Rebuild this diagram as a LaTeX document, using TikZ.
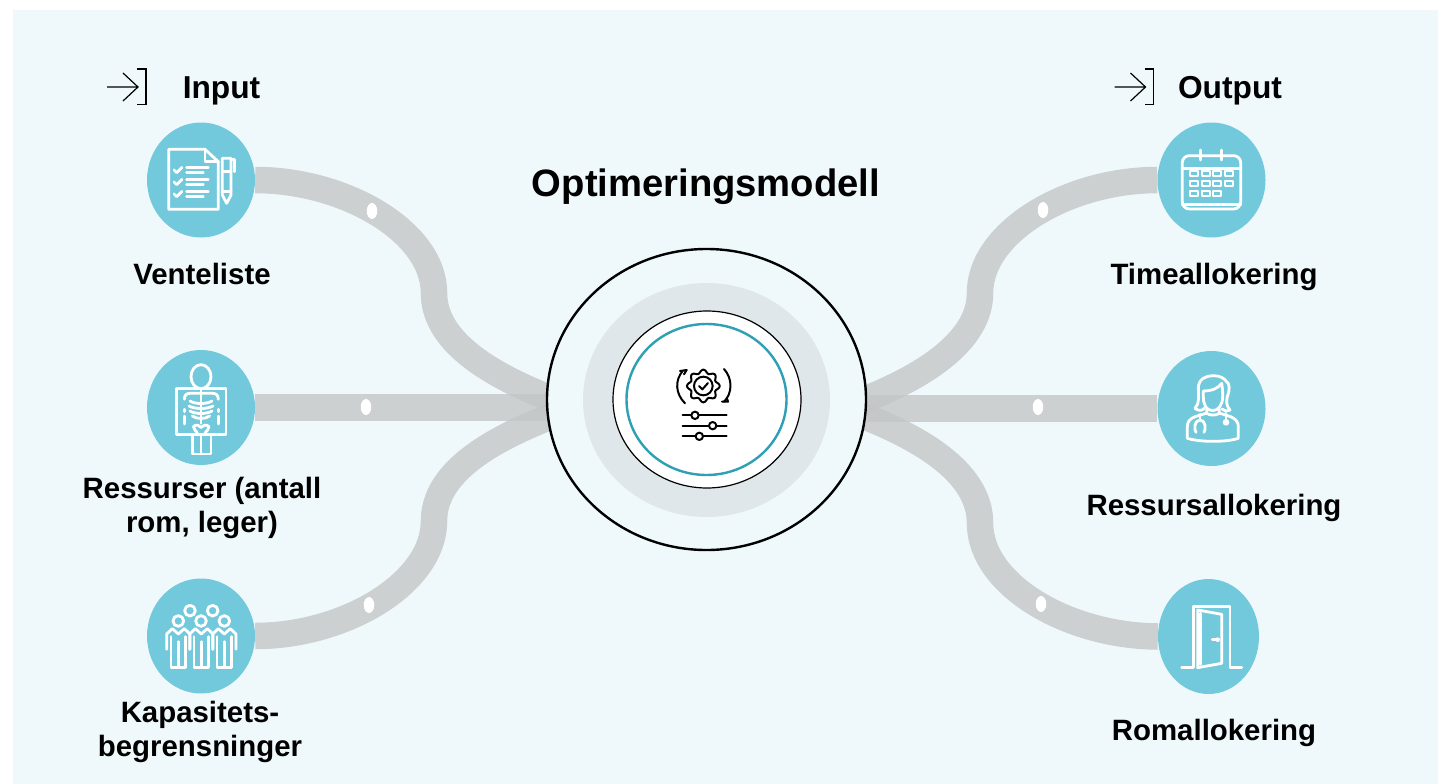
\documentclass[tikz,border=0pt]{standalone}
\usepackage{fontspec}
\setmainfont{Liberation Sans}
\usetikzlibrary{shapes.geometric,backgrounds}
\definecolor{panel}{HTML}{EFF9FC}
\definecolor{band}{HTML}{C4C6C6}
\definecolor{disc}{HTML}{73C9DC}
\definecolor{ringgray}{HTML}{DFE7EA}
\definecolor{ringteal}{HTML}{2E9FB5}
\tikzset{
  disc/.style={ellipse,fill=disc,inner sep=0pt,minimum width=108pt,minimum height=115pt},
  tube/.style={draw=band,draw opacity=.8,line width=26.5pt},
  hole/.style={ellipse,fill=white,inner sep=0pt,minimum width=10.5pt,minimum height=16pt},
  head/.style={font=\bfseries\fontsize{31.7}{36}\selectfont,anchor=base,inner sep=0pt},
  label/.style={font=\bfseries\fontsize{29.4}{34}\selectfont,align=center,inner sep=0pt},
  wicon/.style={draw=white,line width=2.8pt,line join=round,line cap=round},
  kicon/.style={draw=black,line width=2pt,line join=round,line cap=round},
  enter/.style={draw=black,line width=1.2pt},
}
\begin{document}
\begin{tikzpicture}[x=1pt,y=-1pt]
\useasboundingbox (0,0) rectangle (1448,784);
% hub
\node[ellipse,draw=black,line width=2.4pt,fill=panel,inner sep=0pt,minimum width=319pt,minimum height=301pt] (hub) at (706.5,399.5) {};
\node[ellipse,fill=ringgray,inner sep=0pt,minimum width=247pt,minimum height=234pt] (ringg) at (706.5,400) {};
\node[ellipse,draw=black,line width=1.2pt,fill=white,inner sep=0pt,minimum width=188pt,minimum height=177pt] (ringb) at (707,399.5) {};
\node[ellipse,draw=ringteal,line width=2.4pt,fill=white,inner sep=0pt,minimum width=160pt,minimum height=151pt] (ringt) at (706.5,399.5) {};
% discs
\node[disc] (a) at (201,180) {};
\node[disc] (b) at (201,407.5) {};
\node[disc] (c) at (201,636) {};
\node[disc] (x) at (1211.5,180) {};
\node[disc] (y) at (1211.5,408.5) {};
\node[disc,minimum width=101pt] (z) at (1208.5,636.5) {};
% waypoints
\coordinate (ain) at (547,397);
\coordinate (cin) at (547,418);
\coordinate (xin) at (866,399);
\coordinate (zin) at (866,417);
\coordinate (abend) at (434,293);
\coordinate (cbend) at (434,521);
\coordinate (xbend) at (980,293);
\coordinate (zbend) at (980,523);
\begin{scope}[on background layer]
\fill[panel] (13,10) rectangle (1438,784);
\draw[tube] (a.east) .. controls (345,180) and (434,232) .. (abend) .. controls (434,340) and (487,373) .. (ain) -- (hub.center);
\draw[tube] (b.east) -- (b.east -| hub.west);
\draw[tube] (c.east) .. controls (345,636) and (434,583) .. (cbend) .. controls (434,474) and (487,442) .. (cin) -- (hub.center);
\draw[tube] (x.west) .. controls (1068,180) and (980,232) .. (xbend) .. controls (980,340) and (926,375) .. (xin) -- (hub.center);
\draw[tube] (y.west) -- (y.west -| hub.east);
\draw[tube] (z.west) .. controls (1068,636) and (980,585) .. (zbend) .. controls (980,475) and (926,441) .. (zin) -- (hub.center);
\end{scope}
% holes
\node[hole] (h1) at (372,211) {};
\node[hole] (h2) at (366,407) {};
\node[hole] (h3) at (369,605) {};
\node[hole] (h4) at (1043,210) {};
\node[hole] (h5) at (1038,407) {};
\node[hole] (h6) at (1041,604) {};
% texts
\node[head] (tin) at (221.5,98) {Input};
\node[head] (tout) at (1230,98) {Output};
\node[font=\bfseries\fontsize{38.2}{44}\selectfont,anchor=base,inner sep=0pt] (title) at (706,196) {Optimeringsmodell};
\node[label] (l1) at (202,274) {Venteliste};
\node[label] (l2) at (202,508) {Ressurser (antall\\rom, leger)};
\node[label] (l3) at (200,732) {Kapasitets-\\begrensninger};
\node[label] (l4) at (1214,277) {Timeallokering};
\node[label] (l5) at (1214,508) {Ressursallokering};
\node[label] (l6) at (1214,733) {Romallokering};
% enter icons
\foreach \dx in {0,1007.5}{
\begin{scope}[xshift=\dx pt]
\draw[enter] (107,87) -- (138,87) (123,73) -- (138,87) -- (123,101);
\draw[enter] (137,69) -- (146,69) -- (146,104.5) -- (137,104.5);
\end{scope}}
% checklist
\begin{scope}[shift={(90,60)},x=.3333pt,y=-.3333pt]
\draw[wicon] (345,268) -- (236,268) -- (236,448) -- (385,448) -- (385,305) -- cycle;
\draw[wicon] (345,268) -- (345,305) -- (385,305);
\foreach \d in {0,36,72}{
\draw[wicon] (252,{330+\d}) -- (260,{338+\d}) -- (276,{322+\d});
\draw[wicon] (290,{322+\d}) -- (355,{322+\d}) (290,{338+\d}) -- (340,{338+\d});}
\draw[wicon] (397,295) -- (423,295) -- (423,405) -- (410,430) -- (397,405) -- cycle;
\draw[wicon] (423,298) -- (433,298) -- (433,335) (397,335) -- (423,335) (397,395) -- (423,395);
\end{scope}
% x-ray
\begin{scope}[shift={(130,340)},x=.3333pt,y=-.3333pt]
\draw[wicon] (213,110) ellipse [x radius=30,y radius=36];
\draw[wicon] (140,145) rectangle (288,283);
\draw[wicon] (213,146) -- (213,250);
\draw[wicon] (187,283) -- (187,342) -- (243,342) -- (243,283) (213,283) -- (213,342);
\draw[wicon] (163,178) .. controls (163,165) and (170,160) .. (180,160) -- (247,160) .. controls (258,160) and (265,165) .. (265,178);
\foreach \y/\w in {183/33,198/36,213/33,228/26}{
\draw[wicon] ({213-\w},\y) .. controls ({213-\w/2},{\y+10}) and ({213+\w/2},{\y+10}) .. ({213+\w},\y);}
\draw[wicon] (163,208) -- (163,215) (163,228) -- (163,252) (265,208) -- (265,215) (265,228) -- (265,252);
\draw[wicon] (190,260) .. controls (200,250) and (208,258) .. (213,262) .. controls (218,258) and (228,250) .. (237,260) .. controls (238,270) and (228,270) .. (224,283) (190,260) .. controls (190,270) and (200,270) .. (203,283);
\end{scope}
% people
\begin{scope}[shift={(130,570)},x=.3333pt,y=-.3333pt]
\foreach \p/\q in {180/122,248/122,145/153,213/153,283/153}{\draw[wicon] (\p,\q) circle [radius=16];}
\foreach \c in {145,214,283}{
\draw[wicon] ({\c-35},238) -- ({\c-35},192) -- ({\c-18},176) -- (\c,192) -- ({\c+18},176) -- ({\c+35},192) -- ({\c+35},238);
\draw[wicon] ({\c-22},200) -- ({\c-22},293) -- ({\c+22},293) -- ({\c+22},200) (\c,215) -- (\c,293);}
\end{scope}
% calendar
\begin{scope}[shift={(1100,60)},x=.3333pt,y=-.3333pt]
\draw[wicon,rounded corners=7pt] (247,287) rectangle (422,447);
\draw[wicon] (247,325) -- (422,325) (247,433) -- (422,433);
\draw[wicon] (302,270) -- (302,300) (365,270) -- (365,300);
\foreach \cx/\cy in {282/340,317/340,351/340,386/340,282/370,317/370,351/370,386/370,282/400,317/400,351/400}{
\draw[wicon,line width=2pt] ({\cx-12},{\cy-7}) rectangle ({\cx+12},{\cy+7});}
\end{scope}
% doctor
\begin{scope}[shift={(1150,345)},x=.3333pt,y=-.3333pt]
\draw[wicon] (135,190) .. controls (150,175) and (145,150) .. (145,130) .. controls (145,100) and (170,92) .. (190,92) .. controls (210,92) and (222,100) .. (228,108) .. controls (240,115) and (240,135) .. (232,155) .. controls (228,170) and (230,185) .. (240,195) .. controls (230,200) and (222,198) .. (216,192);
\draw[wicon] (135,190) .. controls (145,198) and (155,198) .. (163,190);
\draw[wicon] (160,138) .. controls (185,138) and (205,130) .. (215,115) .. controls (218,130) and (218,145) .. (218,155) .. controls (218,180) and (205,197) .. (188,197) .. controls (170,197) and (160,180) .. (160,155) -- cycle;
\draw[wicon] (170,192) -- (170,205) .. controls (180,212) and (198,212) .. (208,205) -- (208,192);
\draw[wicon] (168,205) -- (135,215) .. controls (118,222) and (112,232) .. (112,245) -- (112,280) .. controls (150,292) and (230,292) .. (265,280) -- (265,245) .. controls (265,232) and (258,222) .. (242,215) -- (210,205);
\draw[wicon] (150,208) -- (150,225);
\draw[wicon] (138,262) .. controls (132,255) and (132,225) .. (150,225) .. controls (168,225) and (168,255) .. (162,262);
\draw[wicon] (228,205) -- (228,222);
\fill[white] (228,232) circle [radius=10];
\end{scope}
% door
\begin{scope}[shift={(1150,575)},x=.3333pt,y=-.3333pt]
\draw[wicon] (95,277) -- (130,277) -- (130,95) -- (240,95) -- (240,277) -- (275,277);
\draw[wicon] (143,105) -- (215,118) -- (215,265) -- (143,278) -- cycle;
\draw[wicon] (152,115) -- (152,268);
\draw[wicon] (187,194) -- (205,194);
\fill[white] (203,194) circle [radius=7];
\end{scope}
% gear and sliders
\begin{scope}[shift={(660,355)},x=.3333pt,y=-.3333pt]
\draw[kicon] plot[domain=0:360,samples=121,smooth] ({130+(44+5*cos(8*\x))*cos(\x)},{93+(44+5*cos(8*\x))*sin(\x)});
\draw[kicon] (130,93) circle [radius=28];
\draw[kicon] (117,93) -- (127,103) -- (144,84);
\draw[kicon] (68,48) .. controls (45,75) and (45,115) .. (75,145);
\draw[kicon] (60,48) -- (80,45) -- (72,58);
\draw[kicon] (192,42) .. controls (218,70) and (218,115) .. (192,140);
\draw[kicon] (186,140) -- (204,140) -- (200,128);
\draw[kicon] (68,181) -- (200,181) (68,212) -- (200,212) (68,244) -- (200,244);
\foreach \kx/\ky in {105/181,158/212,118/244}{\draw[kicon,fill=white] (\kx,\ky) circle [radius=11];}
\end{scope}
\end{tikzpicture}
\end{document}
